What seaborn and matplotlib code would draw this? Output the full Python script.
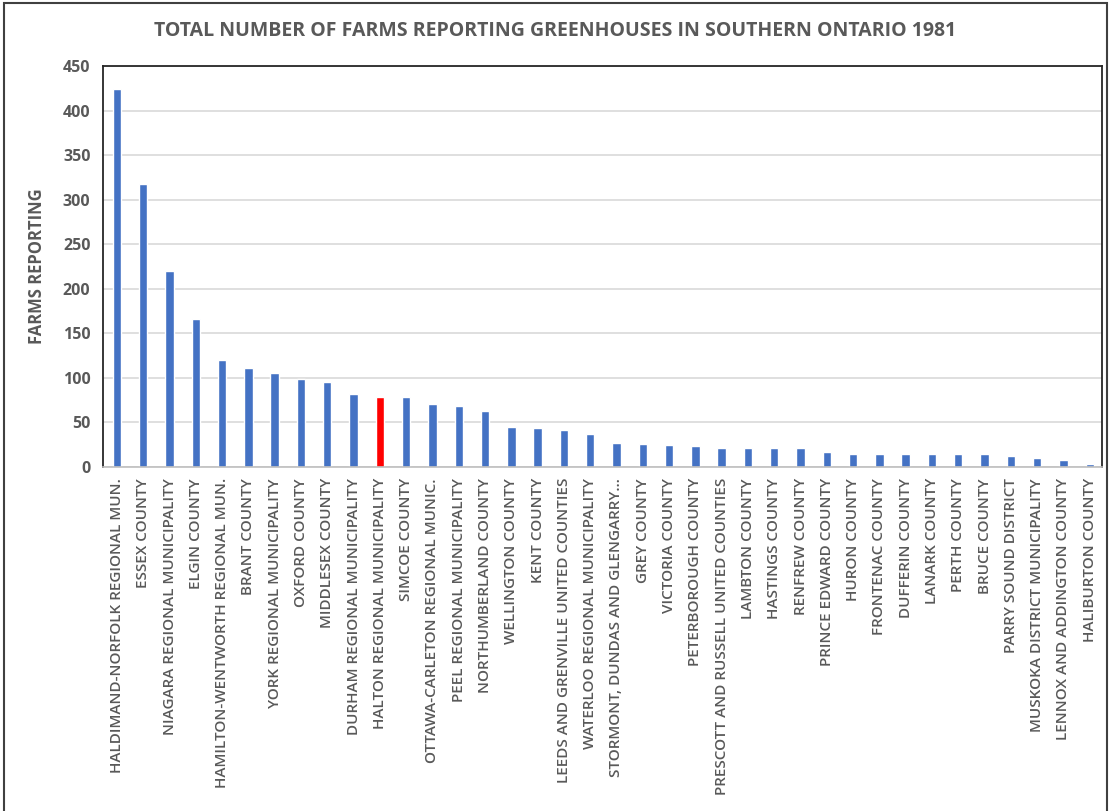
import matplotlib
matplotlib.use("Agg")
import matplotlib.pyplot as plt
import seaborn as sns
import pandas as pd
from matplotlib.patches import Rectangle

# county / municipality names as shown on the x axis
regions = [
    "HALDIMAND-NORFOLK REGIONAL MUN.", "ESSEX COUNTY", "NIAGARA REGIONAL MUNICIPALITY",
    "ELGIN COUNTY", "HAMILTON-WENTWORTH REGIONAL MUN.", "BRANT COUNTY",
    "YORK REGIONAL MUNICIPALITY", "OXFORD COUNTY", "MIDDLESEX COUNTY",
    "DURHAM REGIONAL MUNICIPALITY", "HALTON REGIONAL MUNICIPALITY", "SIMCOE COUNTY",
    "OTTAWA-CARLETON REGIONAL MUNIC.", "PEEL REGIONAL MUNICIPALITY", "NORTHUMBERLAND COUNTY",
    "WELLINGTON COUNTY", "KENT COUNTY", "LEEDS AND GRENVILLE UNITED COUNTIES",
    "WATERLOO REGIONAL MUNICIPALITY", "STORMONT, DUNDAS AND GLENGARRY\u2026", "GREY COUNTY",
    "VICTORIA COUNTY", "PETERBOROUGH COUNTY", "PRESCOTT AND RUSSELL UNITED COUNTIES",
    "LAMBTON COUNTY", "HASTINGS COUNTY", "RENFREW COUNTY", "PRINCE EDWARD COUNTY",
    "HURON COUNTY", "FRONTENAC COUNTY", "DUFFERIN COUNTY", "LANARK COUNTY",
    "PERTH COUNTY", "BRUCE COUNTY", "PARRY SOUND DISTRICT",
    "MUSKOKA DISTRICT MUNICIPALITY", "LENNOX AND ADDINGTON COUNTY", "HALIBURTON COUNTY",
]

# farms reporting greenhouses
farms = [
    424, 318, 220, 166, 120, 111, 105, 99, 95,
    82, 79, 79, 71, 68, 63,
    45, 44, 41, 37, 27, 26,
    25, 24, 21, 21, 21, 21, 17,
    15, 15, 15, 15, 14, 14, 12,
    10, 8, 3,
]

highlight = "HALTON REGIONAL MUNICIPALITY"
blue = "#4472C4"
red = "#FF0000"
text_col = "#595959"

df = pd.DataFrame({"region": regions, "farms": farms})
palette = {r: (red if r == highlight else blue) for r in regions}

sns.set_style("white")
plt.rcParams["font.family"] = ["Open Sans", "DejaVu Sans"]

fig = plt.figure(figsize=(11.11, 8.11), dpi=100)
ax = fig.add_axes([0.0927, 0.4242, 0.8993, 0.4944])

sns.barplot(data=df, x="region", y="farms", hue="region", palette=palette,
            width=0.32, legend=False, ax=ax, saturation=1)

ax.set_xlim(-0.53, 37.47)
ax.set_ylim(0, 450)
ax.set_yticks(range(0, 451, 50))
ax.yaxis.grid(True, color="#d9d9d9", linewidth=1.2)
ax.set_axisbelow(True)

for side in ["left", "top", "right"]:
    ax.spines[side].set_color("#262626")
    ax.spines[side].set_linewidth(1.3)
ax.spines["bottom"].set_color("#bfbfbf")
ax.spines["bottom"].set_linewidth(1.2)

ax.tick_params(axis="both", length=0)
ax.tick_params(axis="y", pad=9)
ax.tick_params(axis="x", pad=8)
plt.setp(ax.get_yticklabels(), fontsize=11.5, fontweight="bold", color=text_col)
plt.setp(ax.get_xticklabels(), rotation=90, fontsize=11, fontweight="semibold",
         color=text_col)

ax.set_xlabel("")
ax.set_ylabel("FARMS REPORTING", fontsize=12, fontweight="bold", color=text_col,
              labelpad=12)

fig.text(0.5, 0.962, "TOTAL NUMBER OF FARMS REPORTING GREENHOUSES IN SOUTHERN ONTARIO 1981",
         ha="center", va="center", fontsize=14, fontweight="bold", color=text_col)

# outer chart frame
fig.patches.append(Rectangle((0.004, -0.01), 0.992, 1.006, transform=fig.transFigure,
                             fill=False, edgecolor="#404040", linewidth=1.5))

fig.savefig("out.png", dpi=100)
